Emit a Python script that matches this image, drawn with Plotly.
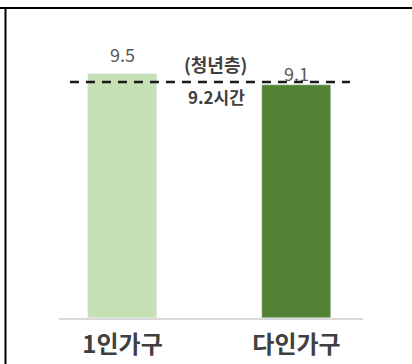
import plotly.graph_objects as go

categories = ["1인가구", "다인가구"]
values = [9.5, 9.1]
bar_colors = ["#C5E0B4", "#548235"]
youth_avg = 9.2
youth_label_top = "(청년층)"
youth_label_bottom = "9.2시간"

FONT = "Noto Sans CJK KR"

fig = go.Figure()
fig.add_trace(go.Bar(
    x=[0, 1], y=values, marker_color=bar_colors, width=0.397,
    hoverinfo="skip", showlegend=False,
))

# value labels
for i, v in enumerate(values):
    fig.add_annotation(x=i, y=v, text=f"{v}", showarrow=False, yanchor="bottom",
                       yshift=5 if i == 0 else -3,
                       font=dict(family=FONT, size=18, color="#595959"))

# youth average dashed line
fig.add_shape(type="line", xref="x", yref="y", x0=-0.302, x1=1.307, y0=youth_avg, y1=youth_avg,
              line=dict(color="#1a1a1a", width=2.5, dash="9px,7px"))
fig.add_annotation(x=0.535, y=youth_avg, text=f"<b>{youth_label_top}</b>", showarrow=False,
                   yanchor="bottom", yshift=3, font=dict(family=FONT, size=18, color="#404040"))
fig.add_annotation(x=0.54, y=youth_avg, text=f"<b>{youth_label_bottom}</b>", showarrow=False,
                   yanchor="top", yshift=0, font=dict(family=FONT, size=17, color="#404040"))

# frame lines (top and left)
fig.add_shape(type="line", xref="paper", yref="paper", x0=-0.2, x1=1.2, y0=1.0, y1=1.0,
              line=dict(color="#000000", width=2))
fig.add_shape(type="line", xref="paper", yref="paper", x0=-0.176, x1=-0.176, y0=1.0, y1=-0.2,
              line=dict(color="#000000", width=2))

fig.update_layout(
    width=412, height=364,
    margin=dict(l=59, r=49, t=8, b=46, autoexpand=False),
    paper_bgcolor="white", plot_bgcolor="white",
    bargap=0,
    xaxis=dict(range=[-0.365, 1.382], tickmode="array", tickvals=[0, 1],
               ticktext=[f"<b>{c}</b>" for c in categories],
               showgrid=False, zeroline=False, showline=True, linecolor="#D9D9D9", linewidth=1.5,
               ticks="", ticklabelstandoff=4, automargin=False,
               tickfont=dict(family=FONT, size=24, color="#404040")),
    yaxis=dict(range=[0, 12.09], visible=False, showgrid=False, zeroline=False, automargin=False),
)

fig.write_html("out.html", config={"displayModeBar": False},
               post_script="document.body.style.margin='0';document.body.style.padding='0';")
